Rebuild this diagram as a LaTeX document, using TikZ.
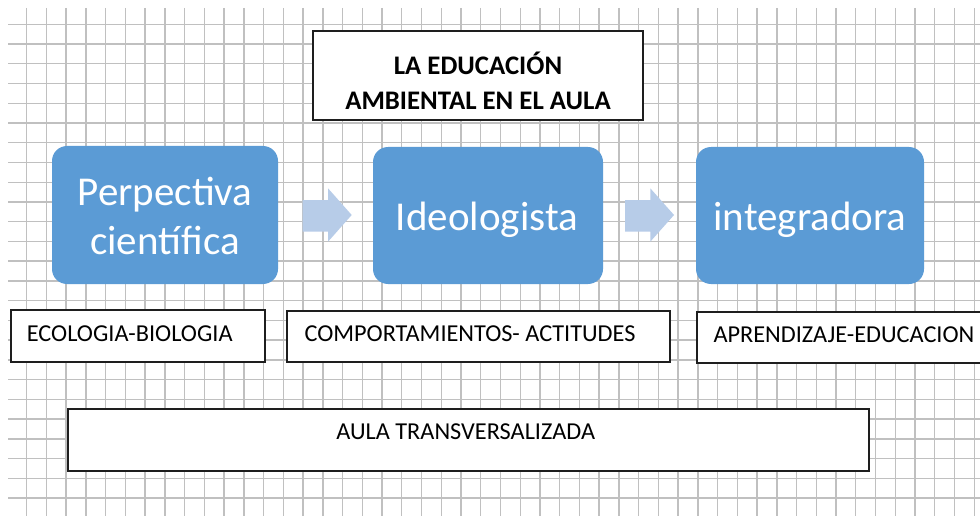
\documentclass[tikz,border=0pt]{standalone}
\usepackage{fontspec}
\setmainfont{Carlito}
\definecolor{gridc}{RGB}{192,192,192}
\definecolor{blueb}{RGB}{91,155,213}
\definecolor{arrowc}{RGB}{183,204,232}
\definecolor{edgec}{RGB}{30,30,30}
\tikzset{
  gridline/.style={draw=gridc, line width=1.4pt},
  wbox/.style={draw=edgec, fill=white, line width=1.3pt, inner sep=0pt, outer sep=0pt},
  bbox/.style={fill=blueb, rounded corners=15pt, inner sep=0pt, outer sep=0pt},
  bigtext/.style={text=white, font=\fontsize{41}{49}\selectfont, inner sep=0pt},
  titletext/.style={text=black, font=\fontsize{26.8}{35}\selectfont\bfseries, inner sep=0pt},
  labeltext/.style={text=black, font=\fontsize{24.3}{28}\selectfont, inner sep=0pt},
  blockarrow/.style={fill=arrowc}
}
\begin{document}
\begin{tikzpicture}[x=1pt,y=-1pt]
\useasboundingbox (0,0) rectangle (980,516);
\clip (0,0) rectangle (980,516);
\fill[white] (0,0) rectangle (980,516);
% grid
\foreach \i in {0,...,48} \draw[gridline] ({26.7+\i*19.74},8) -- ({26.7+\i*19.74},516);
\foreach \j in {0,...,24} \draw[gridline] (8,{24.3+\j*19.74}) -- (980,{24.3+\j*19.74});
% title
\node[wbox, minimum width=330pt, minimum height=89pt] (title) at (478,75.5) {};
\node[titletext, anchor=base] (t1) at (478,75) {LA EDUCACIÓN};
\node[titletext, anchor=base] (t2) at (478,110) {AMBIENTAL EN EL AULA};
% blue boxes
\node[bbox, minimum width=226pt, minimum height=138pt] (b1) at (165,215) {};
\node[bbox, minimum width=230pt, minimum height=137pt] (b2) at (488,215.5) {};
\node[bbox, minimum width=228pt, minimum height=137pt] (b3) at (810,215.5) {};
\node[bigtext, anchor=base] (p1) at (165,205) {Perpectiva};
\node[bigtext, anchor=base] (p2) at (165,254.3) {científica};
\node[bigtext, anchor=base] (p3) at (487,230) {Ideologista};
\node[bigtext, anchor=base] (p4) at (810,230) {integradora};
% block arrows
\fill[blockarrow] (302.7,200) -- (328,200) -- (328,188.3) -- (351.7,215) -- (328,241.7) -- (328,231.7) -- (302.7,231.7) -- cycle;
\fill[blockarrow] (625,200) -- (650.3,200) -- (650.3,188.3) -- (674,215) -- (650.3,241.7) -- (650.3,231.7) -- (625,231.7) -- cycle;
% label boxes
\node[wbox, minimum width=254pt, minimum height=52pt] (la) at (138,336) {};
\node[wbox, minimum width=383pt, minimum height=51pt] (lb) at (478.5,336.5) {};
\node[wbox, minimum width=298pt, minimum height=51pt] (lc) at (846,337.5) {};
\node[wbox, minimum width=801pt, minimum height=62pt] (ld) at (468.5,440) {};
\node[labeltext, anchor=base west] (ta) at (26.7,341) {ECOLOGIA-BIOLOGIA};
\node[labeltext, anchor=base west] (tb) at (304.3,341) {COMPORTAMIENTOS- ACTITUDES};
\node[labeltext, anchor=base west] (tc) at (713.3,342.7) {APRENDIZAJE-EDUCACION};
\node[labeltext, anchor=base] (td) at (465.7,439.3) {AULA TRANSVERSALIZADA};
\end{tikzpicture}
\end{document}
